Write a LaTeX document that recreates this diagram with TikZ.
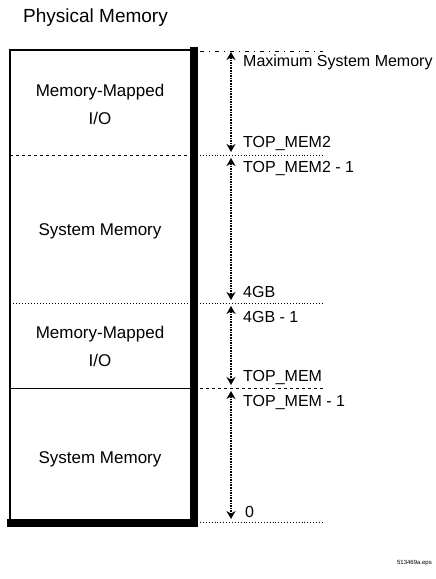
\documentclass[tikz,border=0pt]{standalone}
\usepackage{fontspec}
\setmainfont{Liberation Sans}
\usetikzlibrary{arrows.meta}
\begin{document}
\begin{tikzpicture}[x=1pt,y=-1pt,
  title/.style={font=\fontsize{19}{22}\selectfont, anchor=west, inner sep=0pt},
  lbl/.style={font=\fontsize{16}{18}\selectfont, anchor=west, inner sep=0pt},
  boxtxt/.style={font=\fontsize{17}{28}\selectfont, align=center, inner sep=0pt},
  guide/.style={line width=0.9pt},
  divider/.style={line width=1pt},
  heavy/.style={line width=8pt},
  span/.style={densely dotted, line width=1.6pt,
    {Stealth[length=8pt,width=9pt]}-{Stealth[length=8pt,width=9pt]}}]
\useasboundingbox (0,0) rectangle (436,579);

% title
\node[title] (title) at (23,18) {Physical Memory};

% box outline
\draw[line width=1.3pt] (10,522) -- (10,50) -- (193,50);
\draw[heavy] (194,47) -- (194,527);
\draw[heavy] (7,523) -- (198,523);

% dividers inside box
\draw[divider, dashed] (10,155) -- (190,155);
\draw[divider, dotted] (10,303) -- (190,303);
\draw[divider] (10,388) -- (190,388);

% region labels
\node[boxtxt] (mmio1) at (100,104) {Memory-Mapped\\I/O};
\node[boxtxt] (sys1) at (100,231) {System Memory};
\node[boxtxt] (mmio2) at (100,346) {Memory-Mapped\\I/O};
\node[boxtxt] (sys2) at (100,459) {System Memory};

% boundary coordinates
\coordinate (g0s) at (200,51);  \coordinate (g0e) at (323,51);
\coordinate (g1s) at (200,155); \coordinate (g1e) at (323,155);
\coordinate (g2s) at (200,303); \coordinate (g2e) at (323,303);
\coordinate (g3s) at (200,388); \coordinate (g3e) at (323,388);
\coordinate (g4s) at (200,522); \coordinate (g4e) at (323,522);

% guide lines
\draw[guide, dash pattern=on 4pt off 5pt on 1pt off 5pt] (g0s) -- (g0e);
\draw[guide, dotted] (g1s) -- (g1e);
\draw[guide, dotted] (g2s) -- (g2e);
\draw[guide, dashed] (g3s) -- (g3e);
\draw[guide, dotted] (g4s) -- (g4e);

% span arrows
\coordinate (a0) at (231,52);
\coordinate (a1) at (231,152);
\coordinate (a2) at (231,158);
\coordinate (a3) at (231,300);
\coordinate (a4) at (231,306);
\coordinate (a5) at (231,385);
\coordinate (a6) at (231,391);
\coordinate (a7) at (231,519);
\draw[span] (a0) -- (a1);
\draw[span] (a2) -- (a3);
\draw[span] (a4) -- (a5);
\draw[span] (a6) -- (a7);

% address labels
\node[lbl] (lmax) at (243,62) {Maximum System Memory};
\node[lbl] (ltm2) at (243,143) {TOP\_MEM2};
\node[lbl] (ltm2m) at (243,168) {TOP\_MEM2 - 1};
\node[lbl] (l4g) at (243,292) {4GB};
\node[lbl] (l4gm) at (243,317) {4GB - 1};
\node[lbl] (ltm) at (243,377) {TOP\_MEM};
\node[lbl] (ltmm) at (243,402) {TOP\_MEM - 1};
\node[lbl] (lzero) at (245,512) {0};

% figure id
\node[font=\fontsize{6}{7}\selectfont, anchor=east, inner sep=0pt] (figid) at (432,563) {513469a.eps};
\end{tikzpicture}
\end{document}
